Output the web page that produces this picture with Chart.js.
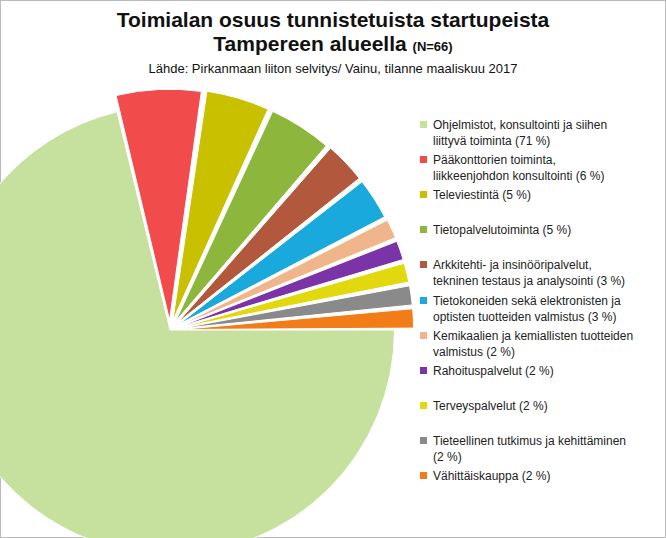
<!DOCTYPE html>
<html><head><meta charset="utf-8">
<script src="https://cdn.jsdelivr.net/npm/chart.js@4"></script>
<style>
body{margin:0;width:666px;height:538px;overflow:hidden;position:relative;background:#fff;font-family:Arial,"Liberation Sans",sans-serif;}
#frame{position:absolute;left:0;top:0;width:664px;height:536px;border:1px solid #bbb;}
#t1{position:absolute;top:8px;width:666px;text-align:center;font-weight:bold;font-size:21px;color:#111;line-height:24px;}
#t3{position:absolute;top:61px;width:666px;text-align:center;font-size:13px;color:#111;}
#wrap{position:absolute;left:-75px;top:85px;width:490px;height:490px;}
.li{position:absolute;left:420px;font-size:12px;color:#222;line-height:16px;width:240px;}
.li span.b{position:absolute;left:0;top:4px;width:7px;height:7px;}
.li div{margin-left:13px;}
</style></head><body>
<div id="frame"></div>
<div id="t1">Toimialan osuus tunnistetuista startupeista<br>Tampereen alueella <span style="font-size:13px">(N=66)</span></div>
<div id="t3">Lähde: Pirkanmaan liiton selvitys/ Vainu, tilanne maaliskuu 2017</div>
<div id="wrap"><canvas id="c" width="490" height="490" style="width:490px;height:490px"></canvas></div>
<div id="legend"></div>
<script>
const categories=[["Ohjelmistot, konsultointi ja siihen","liittyvä toiminta  (71 %)"],["Pääkonttorien toiminta,","liikkeenjohdon konsultointi (6 %)"],["Televiestintä (5 %)"],["Tietopalvelutoiminta (5 %)"],["Arkkitehti- ja insinööripalvelut,","tekninen testaus ja analysointi (3 %)"],["Tietokoneiden sekä elektronisten ja","optisten tuotteiden valmistus (3 %)"],["Kemikaalien ja kemiallisten tuotteiden","valmistus  (2 %)"],["Rahoituspalvelut (2 %)"],["Terveyspalvelut (2 %)"],["Tieteellinen tutkimus ja kehittäminen","(2 %)"],["Vähittäiskauppa (2 %)"]];
const counts=[47,4,3,3,2,2,1,1,1,1,1];
const colors=["#c6e09e","#f24b4b","#c9c100","#8cb73c","#b2583d","#19a9dc","#f1b58b","#7b34a8","#e1d90d","#8a8a8a","#f27c18"];
const offsets=[0,40,40,40,40,40,40,40,40,40,40];
new Chart(document.getElementById('c'),{type:'pie',
data:{labels:categories.map(c=>c.join(' ')),datasets:[{data:counts,backgroundColor:colors,offset:offsets,borderColor:'#fff',borderWidth:1}]},
options:{responsive:false,animation:false,rotation:90,plugins:{legend:{display:false},tooltip:{enabled:false}}}});
const lg=document.getElementById('legend');
categories.forEach((c,i)=>{const d=document.createElement('div');d.className='li';d.style.top=(117+i*35.1)+'px';
d.innerHTML='<span class="b" style="background:'+colors[i]+'"></span><div>'+c.join('<br>')+'</div>';lg.appendChild(d);});
</script>
</body></html>
